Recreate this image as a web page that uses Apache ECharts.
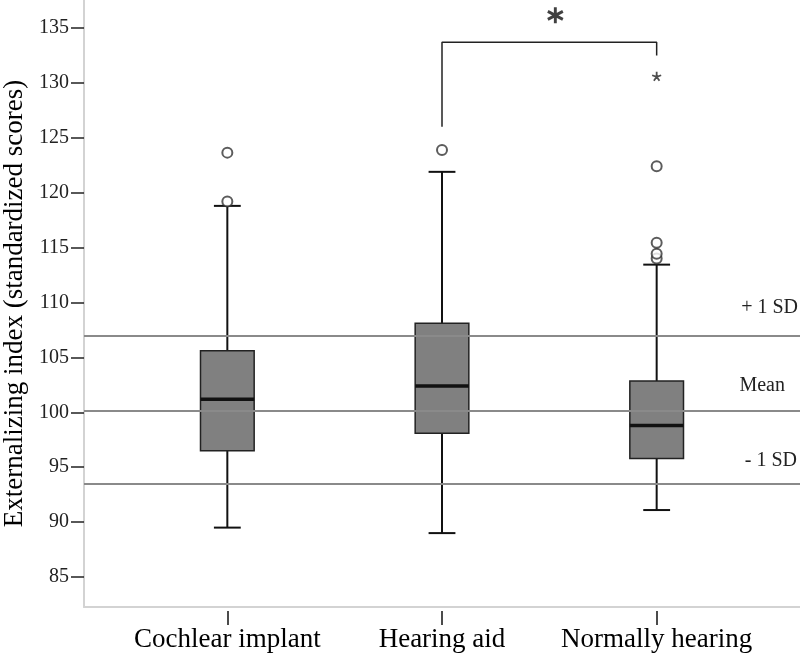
<!DOCTYPE html>
<html><head><meta charset="utf-8">
<script src="https://cdn.jsdelivr.net/npm/echarts@6/dist/echarts.min.js"></script>
<style>html,body{margin:0;padding:0;background:#fff}#c{width:800px;height:658px}</style>
</head><body><div id="c"></div>
<script>
const categories = ['Cochlear implant', 'Hearing aid', 'Normally hearing'];
const whiskerLow = [89.5, 89.0, 91.1];
const q1 = [96.5, 98.1, 95.8];
const medians = [101.2, 102.4, 98.8];
const q3 = [105.6, 108.1, 102.85];
const whiskerHigh = [118.8, 121.9, 113.45];
const outliersCI = [119.2, 123.65];
const outliersHA = [123.9];
const outliersNH = [114.0, 114.45, 115.45, 122.4];
const extremesNH = [130.6];
const refValues = [107.0, 100.15, 93.5];
const refLabels = ['+ 1 SD', 'Mean', '- 1 SD'];
const yTicks = [85, 90, 95, 100, 105, 110, 115, 120, 125, 130, 135];
const bracket = [[1, 126.0], [1, 133.7], [2, 133.7], [2, 132.5]];
const sigMark = [[1.5, 136.15]];
const yTitle = 'Externalizing index (standardized scores)';
const yMin = 82.27, yMax = 137.55;

const FONT = '"Liberation Serif", "Times New Roman", serif';

const boxRows = categories.map((c, i) => [i, whiskerLow[i], q1[i], medians[i], q3[i], whiskerHigh[i]]);
const outlierPts = []
  .concat(outliersCI.map(v => [0, v]))
  .concat(outliersHA.map(v => [1, v]))
  .concat(outliersNH.map(v => [2, v]));
const extremePts = extremesNH.map(v => [2, v]);

const labelTweaks = [
  { distance: [2, 17.5], padding: [0, 0, 0, 0] },
  { distance: [2, 15], padding: [0, 13, 0, 0] },
  { distance: [2, 12.5], padding: [0, 1, 0, 0] }
];

const chart = echarts.init(document.getElementById('c'), null, { renderer: 'canvas' });
chart.setOption({
  backgroundColor: '#fff',
  animation: false,
  grid: [
    { left: 84, right: 0, top: 0, bottom: 51, containLabel: false, outerBoundsMode: 'none' },
    { left: 120, right: 36, top: 0, bottom: 51, containLabel: false, outerBoundsMode: 'none' }
  ],
  xAxis: [
    { gridIndex: 0, type: 'value', min: 0, max: 1,
      axisLine: { show: true, lineStyle: { color: '#d3d3d3', width: 2 } },
      axisTick: { show: false }, axisLabel: { show: false }, splitLine: { show: false } },
    { gridIndex: 1, type: 'category', data: categories, offset: 4,
      axisLine: { show: false },
      axisTick: { show: true, alignWithLabel: true, interval: 0, length: 14, lineStyle: { color: '#111', width: 1.5 } },
      axisLabel: { interval: 0, hideOverlap: false, fontSize: 27, fontFamily: FONT, color: '#000', margin: 15 },
      splitLine: { show: false } },
    { gridIndex: 1, type: 'value', min: -0.5, max: 2.5, show: false }
  ],
  yAxis: [
    { gridIndex: 0, type: 'value', min: yMin, max: yMax,
      axisLine: { show: true, lineStyle: { color: '#d3d3d3', width: 2 } },
      axisTick: { show: true, length: 13, customValues: yTicks, lineStyle: { color: '#222', width: 1.5 } },
      axisLabel: { customValues: yTicks, fontSize: 20, fontFamily: FONT, color: '#222', margin: 15 },
      splitLine: { show: false },
      name: yTitle, nameLocation: 'middle', nameGap: 56,
      nameTextStyle: { fontSize: 27, fontFamily: FONT, color: '#000' } },
    { gridIndex: 1, type: 'value', min: yMin, max: yMax, show: false }
  ],
  series: [
    { type: 'custom', xAxisIndex: 1, yAxisIndex: 1, z: 2, data: boxRows,
      encode: { x: 0, y: [1, 2, 3, 4, 5] },
      renderItem: function (params, api) {
        const idx = api.value(0);
        const pLow = api.coord([idx, api.value(1)]);
        const pQ1 = api.coord([idx, api.value(2)]);
        const pMed = api.coord([idx, api.value(3)]);
        const pQ3 = api.coord([idx, api.value(4)]);
        const pHigh = api.coord([idx, api.value(5)]);
        const band = api.size([1, 0])[0];
        const bw = band * 0.25, cw = band * 0.125;
        const cx = pLow[0];
        const ln = (x1, y1, x2, y2, w) => ({ type: 'line', shape: { x1, y1, x2, y2 }, style: { stroke: '#111', lineWidth: w } });
        return { type: 'group', children: [
          ln(cx, pHigh[1], cx, pQ3[1], 2),
          ln(cx, pQ1[1], cx, pLow[1], 2),
          ln(cx - cw / 2, pHigh[1], cx + cw / 2, pHigh[1], 2),
          ln(cx - cw / 2, pLow[1], cx + cw / 2, pLow[1], 2),
          { type: 'rect', shape: { x: cx - bw / 2, y: pQ3[1], width: bw, height: pQ1[1] - pQ3[1] },
            style: { fill: '#808080', stroke: '#222', lineWidth: 1.5 } },
          ln(cx - bw / 2, pMed[1], cx + bw / 2, pMed[1], 3.5)
        ] };
      } },
    { type: 'line', xAxisIndex: 0, yAxisIndex: 0, z: 5, data: [], silent: true,
      markLine: { symbol: 'none', silent: true, animation: false,
        lineStyle: { color: '#8a8a8a', width: 2, type: 'solid' },
        label: { show: true, formatter: '{b}', position: 'insideEndTop', color: '#222', fontSize: 20, fontFamily: FONT },
        data: refValues.map((v, k) => ({ yAxis: v, name: refLabels[k],
          label: { distance: labelTweaks[k].distance, padding: labelTweaks[k].padding } })) } },
    { type: 'scatter', xAxisIndex: 1, yAxisIndex: 1, z: 4, data: outlierPts,
      symbol: 'emptyCircle', symbolSize: 10,
      itemStyle: { color: '#333', borderColor: '#333', borderWidth: 2 } },
    { type: 'scatter', xAxisIndex: 1, yAxisIndex: 1, z: 4, data: extremePts,
      symbol: 'path://M0,0L0,-5M0,0L4.76,-1.55M0,0L2.94,4.05M0,0L-2.94,4.05M0,0L-4.76,-1.55',
      symbolSize: 9,
      itemStyle: { color: 'none', borderColor: '#222', borderWidth: 1.8 } },
    { type: 'line', xAxisIndex: 2, yAxisIndex: 1, z: 4, data: bracket, symbol: 'none',
      lineStyle: { color: '#222', width: 1.5 } },
    { type: 'scatter', xAxisIndex: 2, yAxisIndex: 1, z: 4, data: sigMark,
      symbol: 'path://M0,-10L0,10M-8.66,-5L8.66,5M-8.66,5L8.66,-5',
      symbolSize: [15, 16], symbolOffset: [6, 0],
      itemStyle: { color: 'none', borderColor: '#111', borderWidth: 3 } }
  ]
});
</script>
</body></html>
